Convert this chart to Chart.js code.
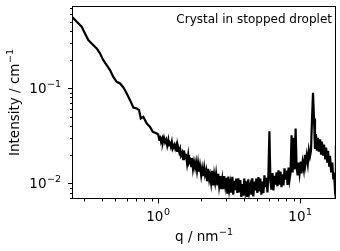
<!DOCTYPE html>
<html>
<head>
<meta charset="utf-8">
<script src="https://cdn.jsdelivr.net/npm/chart.js@4.4.1/dist/chart.umd.min.js"></script>
<style>
  html, body { margin: 0; padding: 0; background: #fff; }
</style>
</head>
<body>
<canvas id="saxsChart" width="340" height="251"></canvas>
<script>
// Scattering vector q (nm^-1)
const qValues = [
    0.25, 0.268, 0.290, 0.306, 0.323, 0.341, 0.370, 0.390, 0.412, 0.435,
    0.459, 0.484, 0.512, 0.540, 0.570, 0.602, 0.635, 0.670, 0.708, 0.735,
    0.756, 0.788, 0.833, 0.878, 0.918, 0.979,
    1.00, 1.02, 1.03, 1.05, 1.07, 1.08, 1.10, 1.12, 1.14, 1.16,
    1.18, 1.19, 1.21, 1.23, 1.25, 1.27, 1.30, 1.32, 1.34, 1.36,
    1.38, 1.41, 1.43, 1.45, 1.48, 1.50, 1.52, 1.55, 1.57, 1.60,
    1.63, 1.65, 1.68, 1.71, 1.73, 1.76, 1.79, 1.82, 1.85, 1.88,
    1.91, 1.94, 1.97, 2.01, 2.04, 2.07, 2.11, 2.14, 2.18, 2.21,
    2.25, 2.29, 2.32, 2.36, 2.40, 2.44, 2.48, 2.52, 2.56, 2.61,
    2.65, 2.69, 2.74, 2.78, 2.83, 2.87, 2.92, 2.97, 3.02, 3.07,
    3.12, 3.17, 3.22, 3.27, 3.33, 3.38, 3.44, 3.49, 3.55, 3.61,
    3.67, 3.73, 3.79, 3.85, 3.91, 3.98, 4.04, 4.11, 4.18, 4.24,
    4.31, 4.38, 4.46, 4.53, 4.60, 4.68, 4.76, 4.83, 4.91, 4.99,
    5.08, 5.16, 5.24, 5.33, 5.42, 5.51, 5.60, 5.69, 5.78, 5.88,
    5.97, 6.07, 6.17, 6.27, 6.38, 6.48, 6.59, 6.70, 6.81, 6.92,
    7.03, 7.15, 7.27, 7.38, 7.51, 7.63, 7.75, 7.88, 8.01, 8.14,
    8.28, 8.41, 8.55, 8.69, 8.84, 8.98, 9.13, 9.28, 9.43, 9.59,
    9.74, 9.90, 10.1, 10.2, 10.4, 10.6, 10.8, 10.9, 11.1, 11.3,
    11.5, 11.7, 11.9, 12.1, 12.3, 12.5, 12.7, 12.9, 13.1, 13.3,
    13.5, 13.8, 14.0, 14.2, 14.5, 14.7, 15.0, 15.2, 15.5, 15.7,
    16.0, 16.2, 16.5, 16.8, 17.1, 17.3, 17.6, 17.8, 17.84
];

// Intensity (cm^-1)
const intensity = [
    0.555, 0.499, 0.442, 0.376, 0.320, 0.295, 0.262, 0.232, 0.197, 0.175,
    0.155, 0.1315, 0.1165, 0.112, 0.1017, 0.0879, 0.0748, 0.0626, 0.0611, 0.0587,
    0.0480, 0.0499, 0.0425, 0.0391, 0.0347, 0.0334,
    0.0328, 0.0286, 0.0316, 0.0272, 0.0295, 0.0268, 0.0301, 0.0269, 0.0287, 0.0250,
    0.0284, 0.0255, 0.0264, 0.0241, 0.0272, 0.0232, 0.0254, 0.0232, 0.0251, 0.0219,
    0.0243, 0.0211, 0.0229, 0.0196, 0.0211, 0.0179, 0.0221, 0.0184, 0.0204, 0.0161,
    0.0198, 0.0165, 0.0175, 0.0151, 0.0185, 0.0142, 0.0168, 0.0146, 0.0168, 0.0136,
    0.0164, 0.0133, 0.0154, 0.0121, 0.0142, 0.0119, 0.0147, 0.0123, 0.0137, 0.0105,
    0.0142, 0.0110, 0.0122, 0.0101, 0.0135, 0.0095, 0.0123, 0.0103, 0.0126, 0.0095,
    0.0126, 0.0095, 0.0119, 0.0087, 0.0109, 0.0087, 0.0119, 0.0094, 0.0114, 0.0078,
    0.0118, 0.0086, 0.0100, 0.0080, 0.0117, 0.0076, 0.0106, 0.0085, 0.0112, 0.0079,
    0.0113, 0.0080, 0.0108, 0.0072, 0.0098, 0.0074, 0.0112, 0.0084, 0.0105, 0.0072,
    0.0110, 0.0081, 0.0094, 0.0076, 0.0113, 0.0073, 0.0104, 0.0084, 0.0112, 0.0079,
    0.0116, 0.0082, 0.0112, 0.0076, 0.0104, 0.0079, 0.0121, 0.0091, 0.0114, 0.0080,
    0.0122, 0.0352, 0.0106, 0.0086, 0.0128, 0.0084, 0.0120, 0.0097, 0.0130, 0.0093,
    0.0137, 0.0097, 0.0133, 0.0091, 0.0124, 0.0095, 0.0144, 0.0109, 0.0136, 0.0096,
    0.0146, 0.0109, 0.0129, 0.0320, 0.0130, 0.0300, 0.0140, 0.0377, 0.0150, 0.0121,
    0.0165, 0.0128, 0.0169, 0.0127, 0.0167, 0.0139, 0.0199, 0.0162, 0.0197, 0.0161,
    0.0222, 0.0191, 0.0218, 0.0470, 0.0893, 0.0480, 0.0230, 0.0330, 0.0220, 0.0300,
    0.0215, 0.0290, 0.0205, 0.0275, 0.0195, 0.0255, 0.0178, 0.0238, 0.0165, 0.0220,
    0.0150, 0.0195, 0.0130, 0.0165, 0.0110, 0.0130, 0.0080, 0.0250, 0.0070
];

// Axis ranges and ticks
const xRange = [0.248, 17.85];
const yRange = [0.00684, 0.73];
const xMajorTicks = [1, 10];
const xTickExponents = ['0', '1'];
const xMinorTicks = [0.3, 0.4, 0.5, 0.6, 0.7, 0.8, 0.9, 2, 3, 4, 5, 6, 7, 8, 9];
const yMajorTicks = [0.01, 0.1];
const yTickExponents = ['\u22122', '\u22121'];
const yMinorTicks = [0.007, 0.008, 0.009, 0.02, 0.03, 0.04, 0.05, 0.06, 0.07, 0.08, 0.09,
                     0.2, 0.3, 0.4, 0.5, 0.6, 0.7];

const FONT = '"DejaVu Sans"';
const BASE_SIZE = 13.5;
const SUP_SIZE = 9.5;

// draws "base" with a raised superscript, the whole thing anchored at x
function drawWithSup(ctx, base, sup, x, y, align) {
    ctx.font = BASE_SIZE + 'px ' + FONT;
    const wb = ctx.measureText(base).width;
    ctx.font = SUP_SIZE + 'px ' + FONT;
    const ws = ctx.measureText(sup).width;
    const total = wb + ws + 0.5;
    let start = x;
    if (align === 'center') start = x - total / 2;
    if (align === 'right') start = x - total;
    ctx.textAlign = 'left';
    ctx.textBaseline = 'alphabetic';
    ctx.font = BASE_SIZE + 'px ' + FONT;
    ctx.fillText(base, start, y);
    ctx.font = SUP_SIZE + 'px ' + FONT;
    ctx.fillText(sup, start + wb + 0.5, y - 6);
}

// Frame, tick marks, labels and in-plot title, drawn on top like matplotlib spines
const axesPlugin = {
    id: 'axesPlugin',
    afterDatasetsDraw(chart) {
        const ctx = chart.ctx;
        const area = chart.chartArea;
        const xs = chart.scales.x;
        const ys = chart.scales.y;
        ctx.save();
        ctx.strokeStyle = '#000';
        ctx.fillStyle = '#000';
        ctx.lineWidth = 1;

        ctx.strokeRect(Math.round(area.left) + 0.5, Math.round(area.top) + 0.5,
            Math.round(area.right - area.left) - 1, Math.round(area.bottom - area.top) - 1);

        const bottom = Math.round(area.bottom);
        const left = Math.round(area.left) + 0.5;
        ctx.beginPath();
        function xTick(v, len) {
            const px = Math.round(xs.getPixelForValue(v)) + 0.5;
            ctx.moveTo(px, bottom);
            ctx.lineTo(px, bottom + len);
        }
        function yTick(v, len) {
            const py = Math.round(ys.getPixelForValue(v)) + 0.5;
            ctx.moveTo(left, py);
            ctx.lineTo(left - len, py);
        }
        xMajorTicks.forEach(v => xTick(v, 4.5));
        xMinorTicks.forEach(v => xTick(v, 2.5));
        yMajorTicks.forEach(v => yTick(v, 4.5));
        yMinorTicks.forEach(v => yTick(v, 2.5));
        ctx.stroke();

        // tick labels
        xMajorTicks.forEach((v, i) => {
            drawWithSup(ctx, '10', xTickExponents[i], xs.getPixelForValue(v), bottom + 21.5, 'center');
        });
        yMajorTicks.forEach((v, i) => {
            drawWithSup(ctx, '10', yTickExponents[i], area.left - 11, ys.getPixelForValue(v) + 5, 'right');
        });

        // axis titles
        drawWithSup(ctx, 'q / nm', '\u22121', (area.left + area.right) / 2, 241, 'center');
        ctx.save();
        ctx.translate(19, (area.top + area.bottom) / 2);
        ctx.rotate(-Math.PI / 2);
        drawWithSup(ctx, 'Intensity / cm', '\u22121', 0, 0, 'center');
        ctx.restore();

        // in-plot title
        ctx.font = '12px ' + FONT;
        ctx.textAlign = 'right';
        ctx.textBaseline = 'middle';
        ctx.fillText('Crystal in stopped droplet', area.right - 4, area.top + 14);
        ctx.restore();
    }
};

const ctx = document.getElementById('saxsChart').getContext('2d');
new Chart(ctx, {
    type: 'scatter',
    data: {
        datasets: [{
            data: qValues.map((q, i) => ({ x: q, y: intensity[i] })),
            showLine: true,
            borderColor: '#000',
            borderWidth: 2.2,
            pointRadius: 0,
            tension: 0
        }]
    },
    options: {
        responsive: false,
        animation: false,
        layout: {
            padding: { left: 0, top: 6, right: 4, bottom: 0 }
        },
        scales: {
            x: {
                type: 'logarithmic',
                min: xRange[0],
                max: xRange[1],
                afterFit: function(scale) {
                    scale.height = 52;
                },
                ticks: { display: false },
                grid: { display: false, drawTicks: false },
                border: { display: false }
            },
            y: {
                type: 'logarithmic',
                min: yRange[0],
                max: yRange[1],
                afterFit: function(scale) {
                    scale.width = 72;
                },
                ticks: { display: false },
                grid: { display: false, drawTicks: false },
                border: { display: false }
            }
        },
        plugins: {
            legend: { display: false },
            tooltip: { enabled: false }
        }
    },
    plugins: [axesPlugin]
});
</script>
</body>
</html>
